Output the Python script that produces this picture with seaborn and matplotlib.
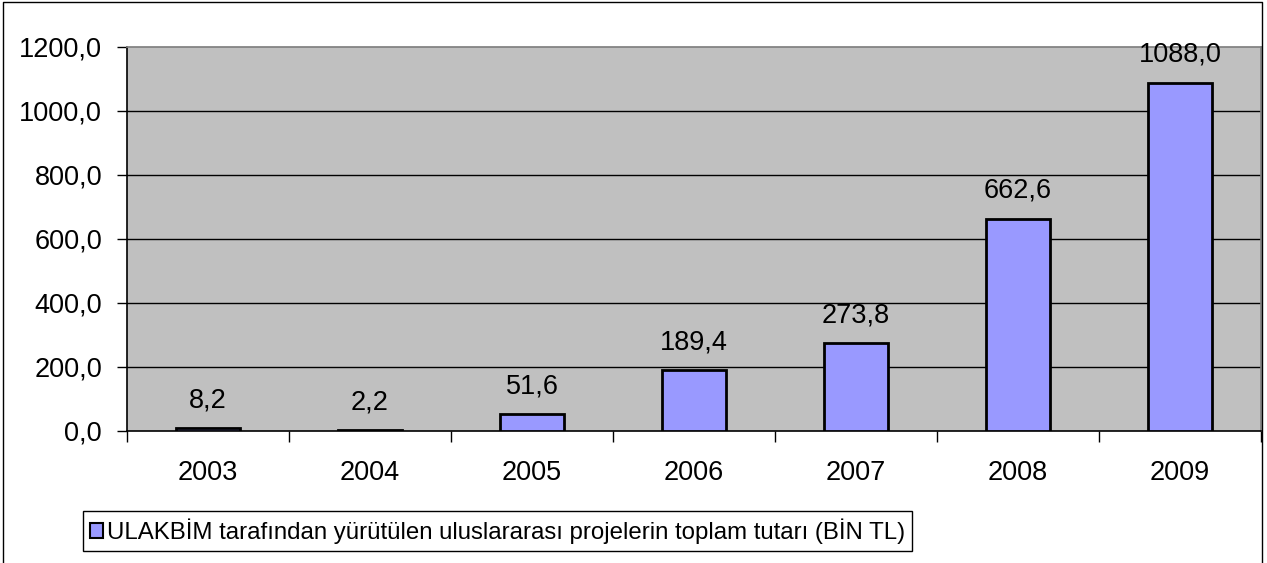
"""Bar chart: ULAKBİM international project totals by year (thousand TL)."""
import matplotlib

matplotlib.use("Agg")
import matplotlib.pyplot as plt
from matplotlib.lines import Line2D
from matplotlib.patches import Patch
import seaborn as sns

years = ["2003", "2004", "2005", "2006", "2007", "2008", "2009"]
totals = [8.2, 2.2, 51.6, 189.4, 273.8, 662.6, 1088.0]
series_label = "ULAKBİM tarafından yürütülen uluslararası projelerin toplam tutarı (BİN TL)"
y_ticks = [0, 200, 400, 600, 800, 1000, 1200]

BAR_COLOR = "#9999FF"
PLOT_BG = "#C0C0C0"

sns.set_theme(style="white")
plt.rcParams["font.family"] = ["Liberation Sans", "DejaVu Sans"]
plt.rcParams["text.color"] = "black"

W, H = 1267, 563
fig = plt.figure(figsize=(W / 100, H / 100), dpi=100)
ax = fig.add_axes([127 / W, 1 - 431 / H, (1261 - 127) / W, (431 - 47) / H])
ax.set_facecolor(PLOT_BG)

sns.barplot(x=years, y=totals, color=BAR_COLOR, edgecolor="black",
            linewidth=2, width=0.4, saturation=1, ax=ax, zorder=3)

ax.set_ylim(0, 1200)
ax.set_xlim(-0.5, len(years) - 0.5)
ax.set_yticks(y_ticks)
ax.set_yticklabels([f"{v:.1f}".replace(".", ",") for v in y_ticks])
for v in y_ticks[1:-1]:
    ax.axhline(v, color="black", lw=1, zorder=1)

# value labels above each bar
for i, v in enumerate(totals):
    ax.annotate(f"{v:.1f}".replace(".", ","), (i, v), xytext=(0, 11),
                textcoords="offset points", ha="center", va="bottom",
                fontsize=19.5, color="black")

# spines: black axes, gray frame on top/right
for side in ("left", "bottom"):
    ax.spines[side].set_color("black")
    ax.spines[side].set_linewidth(1.2)
ax.spines["top"].set_color("#808080")
ax.spines["right"].set_color("#808080")

ax.tick_params(axis="y", which="major", direction="out", length=7, width=1,
               color="black", labelcolor="black", pad=11, labelsize=19.5, left=True)
ax.tick_params(axis="x", which="major", length=0, pad=21, labelsize=19.5,
               labelcolor="black")
ax.set_xticks([i - 0.5 for i in range(len(years) + 1)], minor=True)
ax.tick_params(axis="x", which="minor", direction="out", length=8, width=1,
               color="black", bottom=True)
ax.set_xlabel("")
ax.set_ylabel("")

# legend below the plot area
handle = Patch(facecolor=BAR_COLOR, edgecolor="black", linewidth=1.5)
fig.legend([handle], [series_label], loc="lower left",
           bbox_to_anchor=(83 / W, 1 - 551 / H), fontsize=17.3, frameon=True,
           fancybox=False, edgecolor="black", framealpha=1, labelcolor="black",
           handlelength=0.55, handleheight=0.55, handletextpad=0.15,
           borderpad=0.3, borderaxespad=0)

# outer chart border (left, top, right)
bx0, bx1, by = 3 / W, 1262 / W, 1 - 1.5 / H
fig.add_artist(Line2D([bx0, bx0, bx1, bx1], [0, by, by, 0],
                      transform=fig.transFigure, color="black", lw=1))

fig.savefig("out.png", dpi=100)
